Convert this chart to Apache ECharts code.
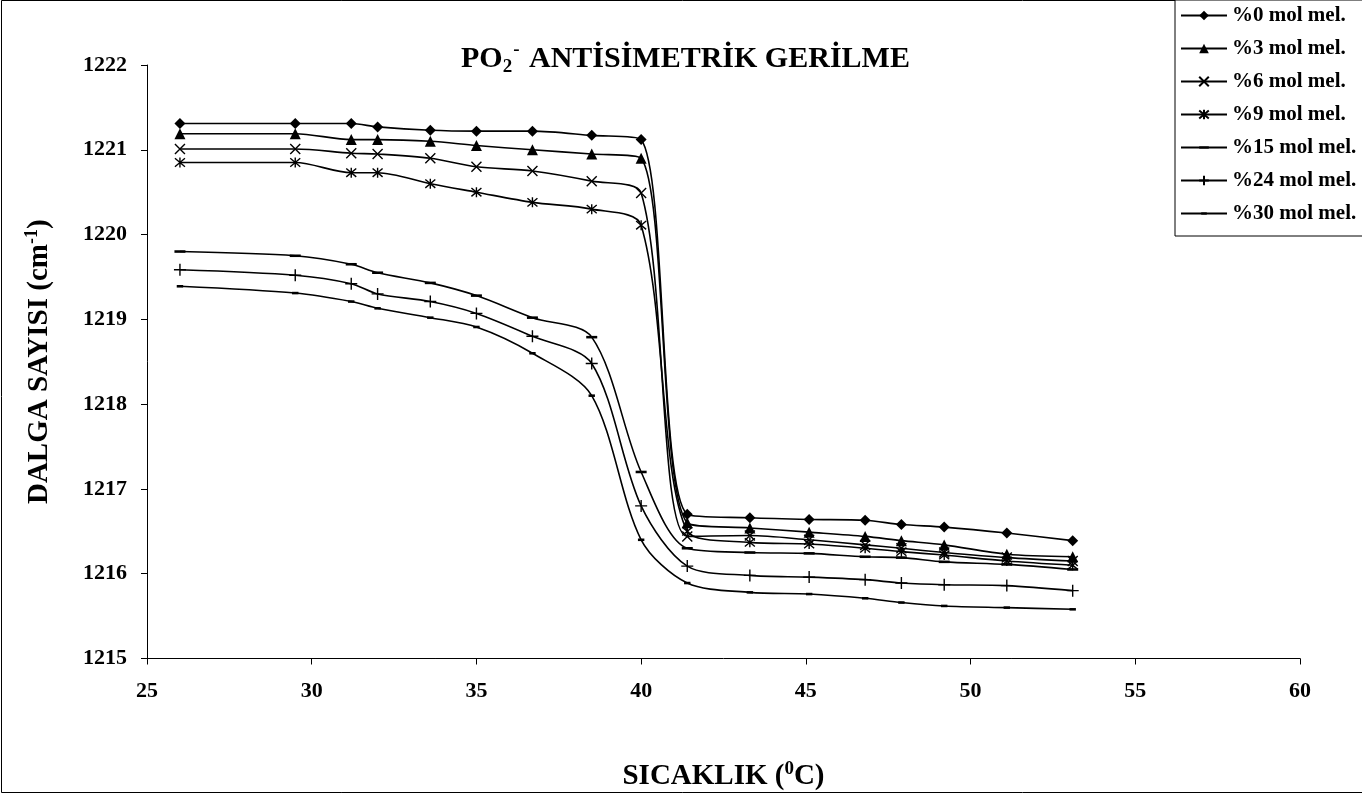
<!DOCTYPE html>
<html>
<head>
<meta charset="utf-8">
<script src="https://cdn.jsdelivr.net/npm/echarts@6/dist/echarts.min.js"></script>
<style>
  html, body { margin: 0; padding: 0; background: #fff; }
  #chart { width: 1362px; height: 796px; }
</style>
</head>
<body>
<div id="chart"></div>
<script>
// Temperatures (°C) at which the band position was measured
const temperatures = [26, 29.5, 31.2, 32, 33.6, 35, 36.7, 38.5, 40, 41.4, 43.3, 45.1, 46.8, 47.9, 49.2, 51.1, 53.1];

// Wavenumber (cm-1) of the PO2- antisymmetric stretch for each mol % of additive
const mol0  = [1221.31, 1221.31, 1221.31, 1221.27, 1221.23, 1221.22, 1221.22, 1221.17, 1221.12, 1216.70, 1216.66, 1216.64, 1216.63, 1216.58, 1216.55, 1216.48, 1216.39];
const mol3  = [1221.19, 1221.19, 1221.12, 1221.12, 1221.10, 1221.05, 1221.00, 1220.95, 1220.90, 1216.60, 1216.54, 1216.49, 1216.44, 1216.39, 1216.34, 1216.23, 1216.20];
const mol6  = [1221.01, 1221.01, 1220.96, 1220.95, 1220.90, 1220.80, 1220.75, 1220.63, 1220.49, 1216.44, 1216.45, 1216.40, 1216.34, 1216.30, 1216.25, 1216.19, 1216.15];
const mol9  = [1220.85, 1220.85, 1220.73, 1220.73, 1220.60, 1220.50, 1220.38, 1220.30, 1220.11, 1216.50, 1216.37, 1216.35, 1216.30, 1216.26, 1216.22, 1216.15, 1216.10];
const mol15 = [1219.80, 1219.75, 1219.65, 1219.55, 1219.43, 1219.28, 1219.02, 1218.79, 1217.20, 1216.30, 1216.25, 1216.24, 1216.20, 1216.19, 1216.14, 1216.11, 1216.05];
const mol24 = [1219.585, 1219.52, 1219.42, 1219.30, 1219.21, 1219.07, 1218.80, 1218.48, 1216.80, 1216.09, 1215.98, 1215.96, 1215.93, 1215.89, 1215.87, 1215.86, 1215.80];
const mol30 = [1219.39, 1219.31, 1219.21, 1219.13, 1219.02, 1218.91, 1218.60, 1218.10, 1216.40, 1215.89, 1215.78, 1215.76, 1215.71, 1215.66, 1215.62, 1215.60, 1215.58];

const seriesNames = ['%0 mol mel.', '%3 mol mel.', '%6 mol mel.', '%9 mol mel.', '%15 mol mel.', '%24 mol mel.', '%30 mol mel.'];
const seriesValues = [mol0, mol3, mol6, mol9, mol15, mol24, mol30];

const FONT = 'Liberation Serif';

// Marker drawing per series. The dash paths keep a square frame (bare move-to
// corners) so the bar stays a thin horizontal dash at any symbol size.
const markers = [
  { symbol: 'diamond', size: 11, filled: true },
  { symbol: 'triangle', size: 11, filled: true },
  { symbol: 'path://M0,0L10,10M10,0L0,10', size: 10, filled: false },
  { symbol: 'path://M0,0L10,10M10,0L0,10M5,-1L5,11', size: 10, filled: false },
  { symbol: 'path://M0,0M12,12M0,4.6L12,4.6L12,7.4L0,7.4Z', size: 11, filled: true },
  { symbol: 'path://M5,0L5,10M0,5L10,5', size: 12, filled: false },
  { symbol: 'path://M0,0M12,12M2.5,4.6L9.5,4.6L9.5,7.4L2.5,7.4Z', size: 11, filled: true }
];

const series = seriesNames.map((name, i) => ({
  name: name,
  type: 'line',
  smooth: 0.3,
  data: temperatures.map((t, k) => [t, seriesValues[i][k]]),
  symbol: markers[i].symbol,
  symbolSize: markers[i].size,
  showSymbol: true,
  lineStyle: { color: '#000', width: 1.6 },
  itemStyle: markers[i].filled
    ? { color: '#000', borderColor: '#000', borderWidth: 0 }
    : { color: 'rgba(0,0,0,0)', borderColor: '#000', borderWidth: 1.4 },
  emphasis: { disabled: true },
  z: 3
}));

const chart = echarts.init(document.getElementById('chart'));
chart.setOption({
  animation: false,
  backgroundColor: '#fff',
  title: {
    text: '{a|PO}{b|2}{c|-}{a| ANTİSİMETRİK GERİLME}',
    left: 456,
    top: 36,
    textStyle: {
      rich: {
        a: { fontFamily: FONT, fontWeight: 'bold', fontSize: 30, color: '#000', lineHeight: 36 },
        b: { fontFamily: FONT, fontWeight: 'bold', fontSize: 19, color: '#000', verticalAlign: 'bottom', lineHeight: 36 },
        c: { fontFamily: FONT, fontWeight: 'bold', fontSize: 19, color: '#000', verticalAlign: 'top', lineHeight: 36, padding: [0, 2, 14, 1] }
      }
    }
  },
  legend: {
    orient: 'vertical',
    left: 1175,
    top: 0,
    padding: [5, 40, 12, 5],
    itemWidth: 46,
    itemHeight: 12,
    itemGap: 12,
    borderColor: '#000',
    borderWidth: 1,
    backgroundColor: '#fff',
    textStyle: { fontFamily: FONT, fontWeight: 'bold', fontSize: 21, color: '#000', lineHeight: 21 },
    data: seriesNames
  },
  grid: { left: 147, right: 62, top: 65, bottom: 131, containLabel: false },
  xAxis: {
    type: 'value',
    min: 25,
    max: 60,
    interval: 5,
    name: '{a|SICAKLIK (}{b|0}{a|C)}',
    nameLocation: 'middle',
    nameGap: 101,
    nameTextStyle: {
      rich: {
        a: { fontFamily: FONT, fontWeight: 'bold', fontSize: 29, color: '#000', lineHeight: 34 },
        b: { fontFamily: FONT, fontWeight: 'bold', fontSize: 19, color: '#000', verticalAlign: 'top', lineHeight: 34 }
      }
    },
    axisLine: { lineStyle: { color: '#000', width: 1 } },
    axisTick: { show: true, inside: false, length: 6, lineStyle: { color: '#000' } },
    axisLabel: { fontFamily: FONT, fontWeight: 'bold', fontSize: 22, color: '#000', margin: 22, formatter: v => String(v) },
    splitLine: { show: false }
  },
  yAxis: {
    type: 'value',
    min: 1215,
    max: 1222,
    interval: 1,
    name: '{a|DALGA SAYISI (cm}{b|-1}{a|)}',
    nameLocation: 'middle',
    nameRotate: 90,
    nameGap: 90,
    nameTextStyle: {
      rich: {
        a: { fontFamily: FONT, fontWeight: 'bold', fontSize: 29, color: '#000', lineHeight: 34 },
        b: { fontFamily: FONT, fontWeight: 'bold', fontSize: 18, color: '#000', verticalAlign: 'top', lineHeight: 34 }
      }
    },
    axisLine: { show: true, lineStyle: { color: '#000', width: 1 } },
    axisTick: { show: true, inside: false, length: 6, lineStyle: { color: '#000' } },
    axisLabel: { fontFamily: FONT, fontWeight: 'bold', fontSize: 22, color: '#000', margin: 20, formatter: v => String(v) },
    splitLine: { show: false }
  },
  graphic: [{
    type: 'rect',
    silent: true,
    z: -1,
    shape: { x: 1.5, y: 0.5, width: 1365, height: 792 },
    style: { fill: 'none', stroke: '#000', lineWidth: 1 }
  }],
  series: series
});
</script>
</body>
</html>
